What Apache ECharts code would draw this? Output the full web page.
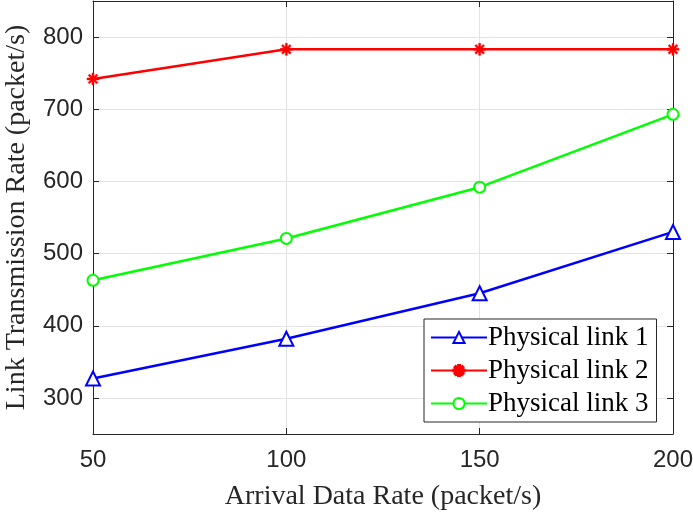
<!DOCTYPE html>
<html>
<head>
<meta charset="utf-8">
<script src="https://cdn.jsdelivr.net/npm/echarts@6/dist/echarts.min.js"></script>
<style>
  html, body { margin: 0; padding: 0; background: #fff; }
  #chart { width: 693px; height: 514px; }
</style>
</head>
<body>
<div id="chart"></div>
<script>
// Arrival data rate (x) and link transmission rate per physical link (y)
const arrivalRates = [50, 100, 150, 200];
const link1 = [327, 382, 445, 530];
const link2 = [742, 783, 783, 783];
const link3 = [463, 521, 592, 693];
const seriesNames = ['Physical link 1', 'Physical link 2', 'Physical link 3'];
const yTicks = [300, 400, 500, 600, 700, 800];

const axisColor = '#262626';
const serif = '"Liberation Serif", "Times New Roman", serif';
const sans = '"Liberation Sans", Arial, Helvetica, sans-serif';

// Asterisk marker drawn as overlapping bars
const asterisk = 'path://M-1,-6L1,-6L1,6L-1,6Z M-6,-1L6,-1L6,1L-6,1Z ' +
  'M-4.9,-3.5L-3.5,-4.9L4.9,3.5L3.5,4.9Z M3.5,-4.9L4.9,-3.5L-3.5,4.9L-4.9,3.5Z';

function pairs(ys) { return arrivalRates.map((x, i) => [x, ys[i]]); }

const chart = echarts.init(document.getElementById('chart'), null, { renderer: 'canvas' });

const tickStyle = { show: true, inside: true, length: 6, lineStyle: { color: axisColor } };
const lineStyle = { show: true, lineStyle: { color: axisColor, width: 1 } };

chart.setOption({
  animation: false,
  grid: { left: 93, right: 20, top: 1, bottom: 80, containLabel: false, outerBoundsMode: 'none' },
  xAxis: [{
    type: 'value', min: 50, max: 200, interval: 50,
    name: 'Arrival Data Rate (packet/s)', nameLocation: 'middle', nameGap: 49,
    nameTextStyle: { fontFamily: serif, fontSize: 28, color: axisColor },
    axisLine: lineStyle,
    axisTick: tickStyle,
    axisLabel: { fontFamily: sans, fontSize: 24, color: axisColor, margin: 14 },
    splitLine: { show: true, lineStyle: { color: '#e3e3e3', width: 1 } }
  }, {
    type: 'value', position: 'top', min: 50, max: 200, interval: 50,
    axisLine: lineStyle, axisTick: tickStyle,
    axisLabel: { show: false }, splitLine: { show: false }
  }],
  yAxis: [{
    type: 'value', min: 250, max: 850, interval: 50,
    name: 'Link Transmission Rate (packet/s)', nameLocation: 'middle', nameGap: 62,
    nameTextStyle: { fontFamily: serif, fontSize: 28, color: axisColor },
    axisLine: lineStyle,
    axisTick: Object.assign({ customValues: yTicks }, tickStyle),
    axisLabel: { fontFamily: sans, fontSize: 24, color: axisColor, margin: 10, customValues: yTicks },
    splitLine: { show: true, lineStyle: { color: '#e3e3e3', width: 1 }, customValues: yTicks }
  }, {
    type: 'value', position: 'right', min: 250, max: 850, interval: 50,
    axisLine: lineStyle,
    axisTick: Object.assign({ customValues: yTicks }, tickStyle),
    axisLabel: { show: false }, splitLine: { show: false }
  }],
  legend: {
    left: 424, top: 319, orient: 'vertical',
    itemWidth: 56, itemHeight: 14, itemGap: 6,
    padding: [5, 8, 5, 6],
    backgroundColor: '#fff', borderColor: axisColor, borderWidth: 1,
    textStyle: { fontFamily: serif, fontSize: 27, color: '#000', padding: [0, 0, 0, -4] },
    data: seriesNames
  },
  series: [{
    name: seriesNames[0], type: 'line', data: pairs(link1),
    symbol: 'triangle', symbolSize: 14,
    lineStyle: { color: '#0000ff', width: 2.5 },
    itemStyle: { color: '#ffffff', borderColor: '#0000ff', borderWidth: 2 }
  }, {
    name: seriesNames[1], type: 'line', data: pairs(link2),
    symbol: asterisk, symbolSize: 12,
    lineStyle: { color: '#ff0000', width: 2.5 },
    itemStyle: { color: '#ff0000', borderColor: '#ff0000', borderWidth: 0.5 }
  }, {
    name: seriesNames[2], type: 'line', data: pairs(link3),
    symbol: 'circle', symbolSize: 11,
    lineStyle: { color: '#00ff00', width: 2.5 },
    itemStyle: { color: '#ffffff', borderColor: '#00ff00', borderWidth: 2 }
  }]
});
</script>
</body>
</html>
